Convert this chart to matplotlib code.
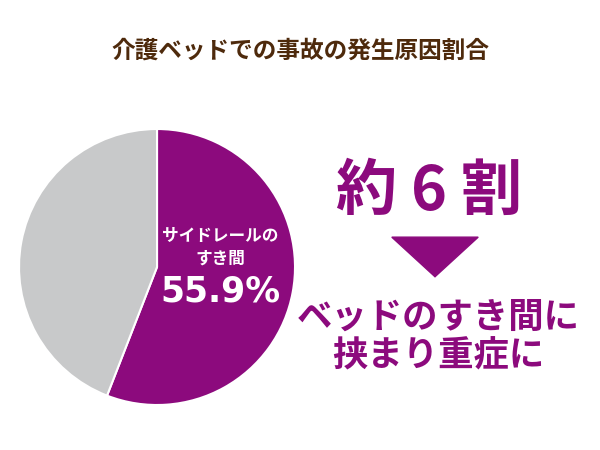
import matplotlib
matplotlib.use("Agg")
import matplotlib.pyplot as plt
from matplotlib.patches import Polygon

plt.rcParams['font.family'] = ['Noto Sans CJK JP', 'DejaVu Sans']

title = "介護ベッドでの事故の発生原因割合"
labels = ["サイドレールの\nすき間", "その他"]
values = [55.9, 44.1]
colors = ["#8C0A7D", "#C8C9CA"]
headline = "約 6 割"
message = "ベッドのすき間に\n挟まり重症に"

fig = plt.figure(figsize=(6, 4.5), dpi=100)
fig.patch.set_facecolor("white")

ax = fig.add_axes([0.0317, 0.1, 0.46, 0.6133])
ax.pie(values, colors=colors, startangle=90, counterclock=False,
       wedgeprops=dict(edgecolor="white", linewidth=1.5))
ax.set_xlim(-1, 1)
ax.set_ylim(-1, 1)
ax.set_aspect("equal")

fig.text(0.5, 0.888, title, ha="center", va="center", fontsize=17,
         fontweight="bold", color="#4E2A0C")

fig.text(0.367, 0.451, labels[0], ha="center", va="center", fontsize=12,
         fontweight="bold", color="white", linespacing=1.3)
fig.text(0.367, 0.353, f"{values[0]}%", ha="center", va="center", fontsize=25,
         fontweight="bold", color="white", family=["DejaVu Sans"])

fig.text(0.715, 0.572, headline, ha="center", va="center", fontsize=44,
         fontweight="bold", color="#8C0A7D")

tri = Polygon([[0.653, 0.473], [0.797, 0.473], [0.725, 0.385]],
              closed=True, transform=fig.transFigure, color="#8C0A7D")
fig.patches.append(tri)

fig.text(0.731, 0.252, message, ha="center", va="center", fontsize=25.5,
         fontweight="bold", color="#8C0A7D", linespacing=1.15)

fig.savefig("out.png", dpi=100)
